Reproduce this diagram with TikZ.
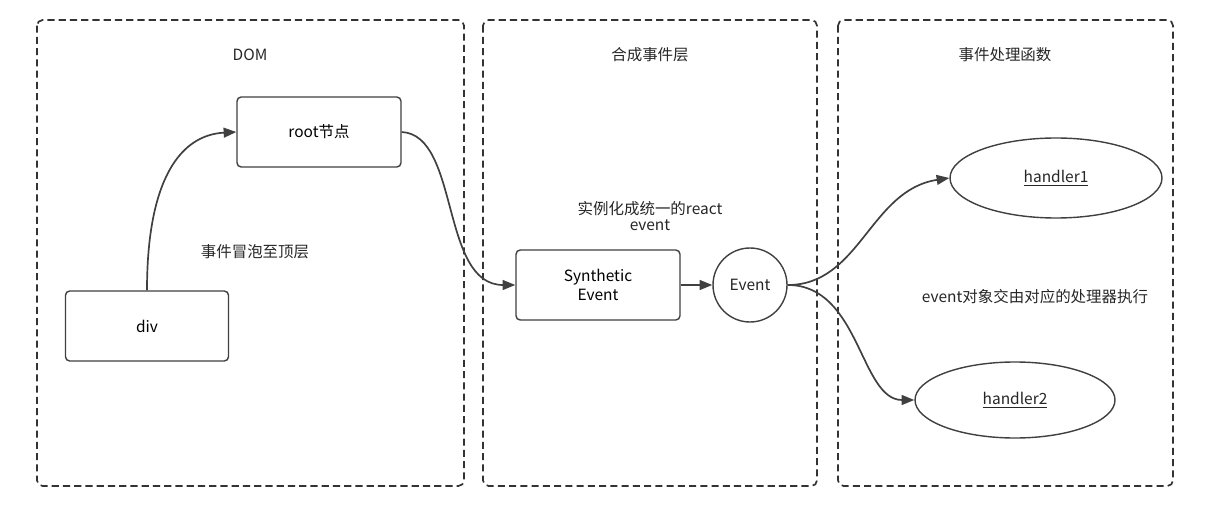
\documentclass[tikz,border=0pt]{standalone}
\usepackage{fontspec}
\setmainfont{Noto Sans CJK SC}
\usetikzlibrary{arrows.meta,shapes.geometric}
\tikzset{
  panel/.style={draw=black!80, line width=1.2pt, dash pattern=on 5pt off 3pt, rounded corners=4pt},
  box/.style={draw=black!75, line width=1pt, rounded corners=3pt, fill=white, font=\fontsize{11}{13}\selectfont, align=center},
  lbl/.style={font=\fontsize{11}{13}\selectfont, align=center, text=black!85},
  flow/.style={draw=black!75, line width=1.2pt, -{Triangle[length=9pt,width=7pt]}}
}
\begin{document}
\begin{tikzpicture}[x=0.025cm,y=-0.025cm]
    \useasboundingbox (0,0) rectangle (1222,511);

    % panels
    \draw[panel] (37,20) rectangle (464,486);
    \draw[panel] (483,20) rectangle (817,486);
    \draw[panel] (838,20) rectangle (1173,486);

    % titles
    \node[lbl] (tdom) at (250,55) {DOM};
    \node[lbl] (tsyn) at (650,55) {合成事件层};
    \node[lbl] (thand) at (1005,55) {事件处理函数};

    % nodes
    \node[box, minimum width=164*0.025cm, minimum height=70*0.025cm] (root) at (319,132) {root节点};
    \node[box, minimum width=163*0.025cm, minimum height=70*0.025cm] (div) at (147,326) {div};
    \node[box, minimum width=164*0.025cm, minimum height=70*0.025cm, font=\fontsize{11}{14}\selectfont] (synth) at (598,285) {Synthetic\\Event};
    \node[draw=black!75, line width=1pt, circle, minimum size=74*0.025cm, lbl] (event) at (750,285) {Event};
    \node[draw=black!75, line width=1pt, ellipse, minimum width=212*0.025cm, minimum height=80*0.025cm, lbl] (h1) at (1056,178) {\underline{handler1}};
    \node[draw=black!75, line width=1pt, ellipse, minimum width=200*0.025cm, minimum height=76*0.025cm, lbl] (h2) at (1015,400) {\underline{handler2}};

    % notes
    \node[lbl] (bubble) at (255,252) {事件冒泡至顶层};
    \node[lbl, font=\fontsize{11}{11}\selectfont] (inst) at (650,216) {实例化成统一的react\\event};
    \node[lbl] (exec) at (1035,297) {event对象交由对应的处理器执行};

    % connectors
    \draw[flow] (div.north) .. controls (147,180) and (180,135) .. (root.west);
    \draw[flow] (root.east) .. controls (460,135) and (440,285) .. (synth.west);
    \draw[flow] (synth.east) -- (event.west);
    \draw[flow] (event.east) .. controls (860,285) and (870,190) .. (h1.west);
    \draw[flow] (event.east) .. controls (860,285) and (860,400) .. (h2.west);
\end{tikzpicture}
\end{document}
